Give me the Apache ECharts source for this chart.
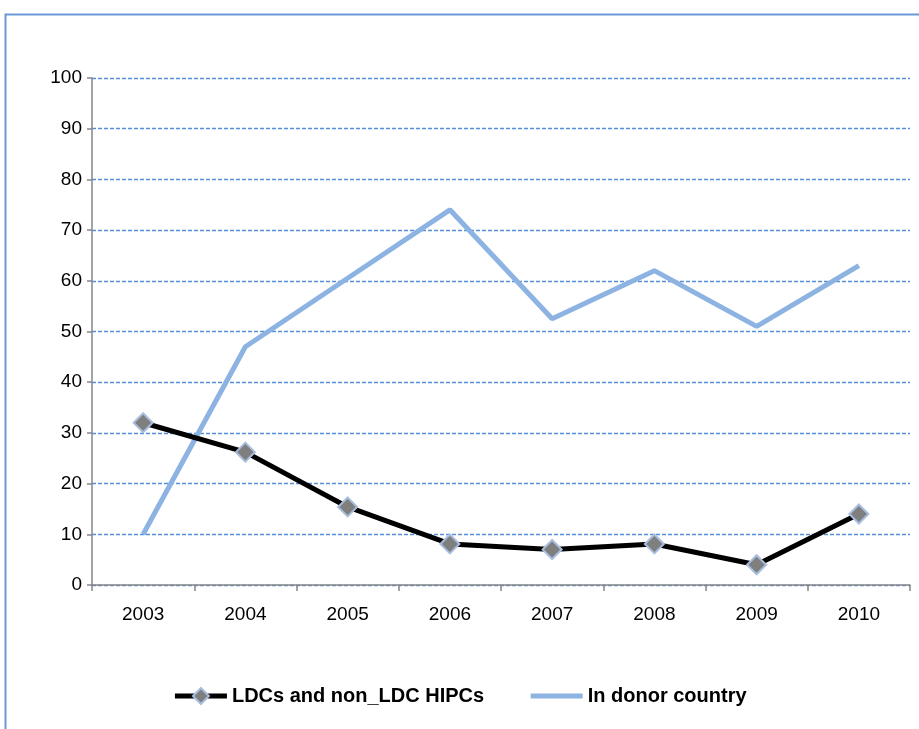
<!DOCTYPE html>
<html>
<head>
<meta charset="utf-8">
<script src="https://cdn.jsdelivr.net/npm/echarts@6/dist/echarts.min.js"></script>
<style>
  html, body { margin: 0; padding: 0; background: #fff; }
  #chart { width: 919px; height: 729px; }
</style>
</head>
<body>
<div id="chart"></div>
<script>
// years on the x axis
var years = ['2003', '2004', '2005', '2006', '2007', '2008', '2009', '2010'];
// LDCs and non_LDC HIPCs
var ldcValues = [32, 26.2, 15.4, 8.1, 7, 8.1, 4, 14];
// In donor country
var donorValues = [10, 47, 60.5, 74, 52.5, 62, 51, 63];

var myChart = echarts.init(document.getElementById('chart'));
var fontName = 'Liberation Sans';

var options = {
    animation: false,
    backgroundColor: '#fff',
    graphic: [{
        type: 'rect',
        shape: { x: 5.5, y: 14.5, width: 930, height: 740 },
        style: { fill: 'none', stroke: '#6A98D6', lineWidth: 2 },
        silent: true
    }],
    grid: { left: 92, right: 9, top: 78, bottom: 144 },
    legend: {
        bottom: 18,
        left: 'center',
        itemWidth: 52,
        itemHeight: 20,
        itemGap: 44,
        lineStyle: { width: 5 },
        textStyle: { fontFamily: fontName, fontSize: 20, fontWeight: 'bold', color: '#000' },
        data: [
            { name: 'LDCs and non_LDC HIPCs' },
            { name: 'In donor country', itemStyle: { opacity: 0 } }
        ]
    },
    xAxis: {
        type: 'category',
        data: years,
        boundaryGap: true,
        axisLine: { lineStyle: { color: '#868686', width: 1.5 } },
        axisTick: { show: true, length: 6, lineStyle: { color: '#868686', width: 1.5 } },
        axisLabel: { margin: 20, fontFamily: fontName, fontSize: 19, color: '#000' },
        splitLine: { show: false }
    },
    yAxis: {
        type: 'value',
        min: 0,
        max: 100,
        interval: 10,
        axisLine: { show: true, lineStyle: { color: '#868686', width: 1.5 } },
        axisTick: { show: true, length: 5, lineStyle: { color: '#868686', width: 1.5 } },
        axisLabel: { margin: 10, fontFamily: fontName, fontSize: 19, color: '#000' },
        splitLine: { show: true, lineStyle: { color: '#558ED5', type: [4, 2], width: 1.3 } }
    },
    series: [{
        name: 'LDCs and non_LDC HIPCs',
        type: 'line',
        data: ldcValues,
        symbol: 'diamond',
        symbolSize: 19,
        lineStyle: { color: '#000', width: 5 },
        itemStyle: { color: '#7F7F7F', borderColor: '#A9BEDE', borderWidth: 2 },
        z: 3
    }, {
        name: 'In donor country',
        type: 'line',
        data: donorValues,
        symbol: 'none',
        lineStyle: { color: '#8DB3E2', width: 5 },
        itemStyle: { color: '#8DB3E2' },
        z: 2
    }]
};

myChart.setOption(options, true);
</script>
</body>
</html>
